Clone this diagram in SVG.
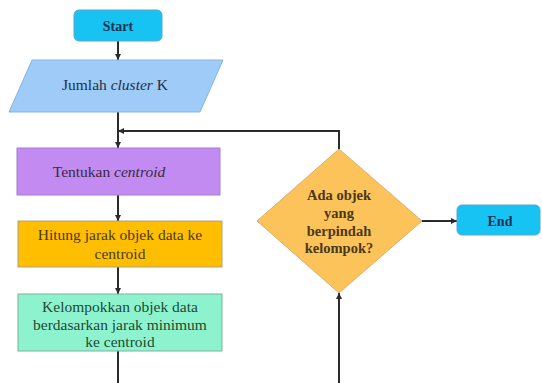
<svg xmlns="http://www.w3.org/2000/svg" width="542" height="383" viewBox="0 0 542 383">
<defs>
<style>
text{font-family:'Liberation Serif','Times New Roman',serif;text-anchor:middle;}
.con{fill:none;stroke:#2b2b2b;stroke-width:2;}
.term{fill:#17c3f2;stroke:#5aa8c8;stroke-width:1;}
.tt{font-size:14px;font-weight:bold;fill:#1a3050;}
.body{font-size:15.5px;}
</style>
<marker id="ah" viewBox="0 0 6 6" refX="6" refY="3" markerWidth="3" markerHeight="3" orient="auto" markerUnits="strokeWidth">
<path d="M0,0 L6,3 L0,6 z" fill="#2b2b2b"/>
</marker>
</defs>
<rect width="542" height="383" fill="#ffffff"/>
<g id="connectors">
<line class="con" x1="118" y1="41" x2="118" y2="60" marker-end="url(#ah)"/>
<line class="con" x1="118" y1="112" x2="118" y2="148" marker-end="url(#ah)"/>
<line class="con" x1="118" y1="195" x2="118" y2="221" marker-end="url(#ah)"/>
<line class="con" x1="118" y1="267" x2="118" y2="294" marker-end="url(#ah)"/>
<line class="con" x1="118" y1="351" x2="118" y2="383"/>
<line class="con" x1="339" y1="383" x2="339" y2="293" marker-end="url(#ah)"/>
<polyline class="con" points="339,149 339,131 118,131" marker-end="url(#ah)"/>
<line class="con" x1="422" y1="221" x2="457" y2="221" marker-end="url(#ah)"/>
</g>
<g id="start">
<rect class="term" x="74" y="10" width="88" height="31" rx="5"/>
<text class="tt" x="118" y="31">Start</text>
</g>
<g id="input">
<polygon points="32,60 223,60 200,112 9,112" fill="#9ecbf7" stroke="#86b4de" stroke-width="1"/>
<text class="body" x="115" y="90" fill="#1f3048">Jumlah <tspan font-style="italic">cluster</tspan> K</text>
</g>
<g id="centroid">
<rect x="17" y="148" width="203" height="47" fill="#c18bf2" stroke="#a87cd0" stroke-width="1"/>
<text class="body" x="109" y="177" fill="#3a2a40">Tentukan <tspan font-style="italic">centroid</tspan></text>
</g>
<g id="hitung">
<rect x="18" y="221" width="204" height="46" fill="#ffbf00" stroke="#b0a080" stroke-width="1"/>
<text class="body" fill="#4a3a1a"><tspan x="120" y="240">Hitung jarak objek data ke</tspan><tspan x="120" y="259">centroid</tspan></text>
</g>
<g id="kelompok">
<rect x="18" y="294" width="204" height="57" fill="#8df3cf" stroke="#7fb0a0" stroke-width="1"/>
<text class="body" fill="#1e4a30"><tspan x="120" y="312">Kelompokkan objek data</tspan><tspan x="120" y="330">berdasarkan jarak minimum</tspan><tspan x="120" y="347">ke centroid</tspan></text>
</g>
<g id="decision">
<polygon points="339,149 422,221 339,293 257,221" fill="#fcc35a" stroke="#d8b070" stroke-width="1"/>
<text class="body" fill="#4a3818" font-weight="bold" style="font-size:14.5px"><tspan x="339" y="200">Ada objek</tspan><tspan x="339" y="218">yang</tspan><tspan x="339" y="236">berpindah</tspan><tspan x="339" y="253">kelompok?</tspan></text>
</g>
<g id="end">
<rect class="term" x="457" y="205" width="83" height="30" rx="5"/>
<text class="tt" x="500" y="226">End</text>
</g>
</svg>
